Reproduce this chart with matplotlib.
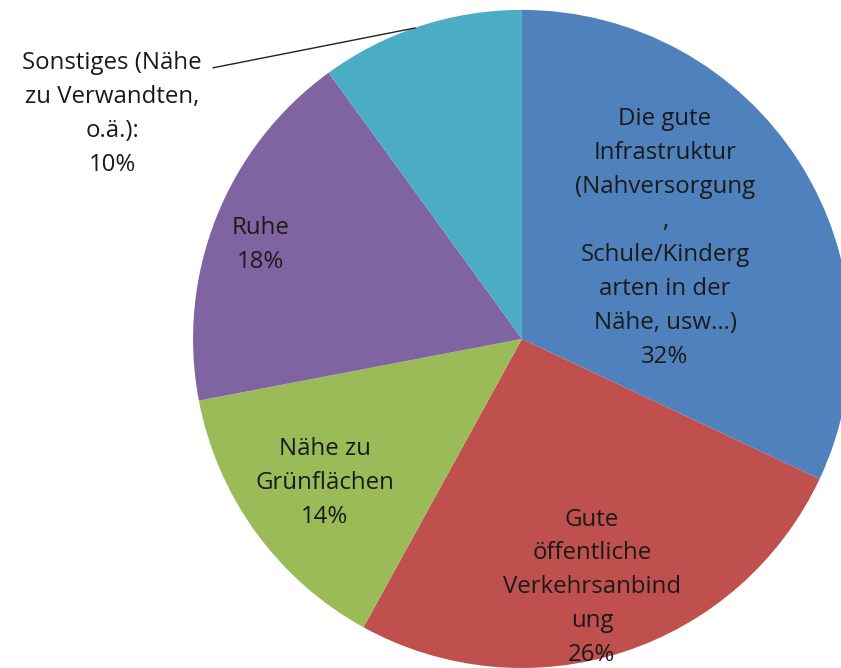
import matplotlib
matplotlib.use("Agg")
import matplotlib.pyplot as plt

# Anteile in Prozent, im Uhrzeigersinn ab 12 Uhr
labels = [
    "Die gute\nInfrastruktur\n(Nahversorgung\n,\nSchule/Kinderg\narten in der\nNähe, usw...)",
    "Gute\nöffentliche\nVerkehrsanbind\nung",
    "Nähe zu\nGrünflächen",
    "Ruhe",
    "Sonstiges (Nähe\nzu Verwandten,\no.ä.):",
]
werte = [32, 26, 14, 18, 10]
farben = ["#4F81BD", "#C0504D", "#9BBB59", "#8064A2", "#4BACC6"]

# Position der Beschriftungen (Datenkoordinaten, Radius = 1)
text_pos = [(0.435, 0.307), (0.213, -0.755), (-0.599, -0.438), (-0.796, 0.286), (-1.246, 0.684)]

plt.rcParams["font.family"] = ["Open Sans", "DejaVu Sans"]

fig = plt.figure(figsize=(8.41, 6.68), dpi=100)
ax = fig.add_axes([0, 0, 1, 1])
ax.pie(werte, colors=farben, startangle=90, counterclock=False,
       wedgeprops=dict(linewidth=0))
ax.set_xlim(-1.587, 0.970)
ax.set_ylim(-1.0, 1.030)
ax.set_aspect("auto")
ax.axis("off")

for lab, w, (x, y) in zip(labels, werte, text_pos):
    ax.text(x, y, f"{lab}\n{w}%", ha="center", va="center", fontsize=17.3,
            color="#1a1a1a", linespacing=1.55)

# Führungslinie für "Sonstiges"
ax.plot([-0.939, -0.325], [0.824, 0.945], color="#222222", lw=1)

fig.savefig("out.png", dpi=100)
plt.close(fig)
